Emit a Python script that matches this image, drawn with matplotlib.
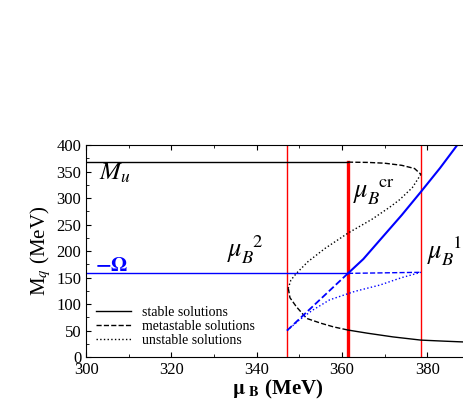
import matplotlib
matplotlib.use('Agg')
import matplotlib.pyplot as plt
from matplotlib.ticker import MultipleLocator

plt.rcParams['font.family'] = ['Liberation Serif', 'DejaVu Serif']
plt.rcParams['mathtext.fontset'] = 'stix'

# black S curve
stable_top_mu = [300, 361.4]; stable_top_M = [368, 368]
meta_up_mu = [361.4, 366, 370, 374, 377, 378.5]; meta_up_M = [368, 367.5, 366, 362, 356, 345]
unst_mu = [378.5, 376.5, 373.5, 371.2, 367, 361.4, 356, 352, 349.3, 348, 347.4]
unst_M = [345, 320, 297, 283, 260, 234, 205, 180, 158, 145, 130]
meta_lo_mu = [347.4, 347.8, 349.3, 351.7, 355, 358, 361.4]
meta_lo_M = [130, 112, 95, 73, 64, 57, 51]
stable_lo_mu = [361.4, 366, 372, 378.5, 384, 390]; stable_lo_M = [51, 45, 38, 32, 30, 28]
# blue Omega curves
om_st_mu = [300, 361.4]; om_st = [158, 158]
om_up_mu = [361.4, 365, 368.9, 374, 378.5, 383, 387]; om_up = [158, 185, 221, 268, 312, 357, 400]
om_dh_mu = [361.4, 378.5]; om_dh = [158, 160]
om_dd_mu = [347.1, 361.4]; om_dd = [50, 158]
om_dot_mu = [347.1, 350, 353, 357.1, 363, 368.9, 374, 378.5]
om_dot = [50, 70, 88, 108, 124, 136, 150, 160]
red_mu = [347.1, 361.4, 378.5]; red_lw = [1, 2.4, 1]

fig = plt.figure(figsize=(4.63, 4.09), dpi=100)
ax = fig.add_axes([0.186, 0.127, 0.829, 0.518])
for x, lw in zip(red_mu, red_lw):
    ax.axvline(x, color='red', lw=lw, ymax=368/400 if x == 361.4 else 1)
ax.plot(stable_top_mu, stable_top_M, 'k-', lw=1, label='stable solutions')
ax.plot(meta_up_mu, meta_up_M, 'k--', lw=1, label='metastable solutions')
ax.plot(unst_mu, unst_M, 'k:', lw=1, label='unstable solutions')
ax.plot(meta_lo_mu, meta_lo_M, 'k--', lw=1)
ax.plot(stable_lo_mu, stable_lo_M, 'k-', lw=1)
ax.plot(om_st_mu, om_st, 'b-', lw=1)
ax.plot(om_up_mu, om_up, 'b-', lw=1.5)
ax.plot(om_dh_mu, om_dh, 'b--', lw=1)
ax.plot(om_dd_mu, om_dd, 'b--', lw=1.3)
ax.plot(om_dot_mu, om_dot, 'b:', lw=1)

ax.set_xlim(300, 390); ax.set_ylim(0, 400)
ax.xaxis.set_major_locator(MultipleLocator(20)); ax.xaxis.set_minor_locator(MultipleLocator(10))
ax.yaxis.set_major_locator(MultipleLocator(50)); ax.yaxis.set_minor_locator(MultipleLocator(25))
ax.tick_params(which='both', direction='in', top=True, right=True, labelsize=12)
ax.set_xlabel(r'$\mathbf{\mu}_{\ \mathbf{B}}$ (MeV)', fontsize=15, labelpad=0, fontweight='bold')
ax.set_ylabel(r'M$_q$ (MeV)', fontsize=15, labelpad=2)

ax.text(303, 335, r'$\boldsymbol{M_u}$', fontsize=18)
ax.text(302, 162, r'$\mathbf{-\Omega}$', fontsize=15, color='blue')
ax.text(333, 190, r'$\mu_B^{\ \ 2}$', fontsize=19)
ax.text(362.5, 300, r'$\mu_B^{\ \ \mathrm{cr}}$', fontsize=19)
ax.text(380, 185, r'$\mu_B^{\ \ 1}$', fontsize=19)
ax.legend(loc='lower left', frameon=False, fontsize=10, handlelength=2.5,
          borderpad=0.2, labelspacing=0.1, bbox_to_anchor=(0.0, 0.0))
fig.savefig('out.png', dpi=100)
